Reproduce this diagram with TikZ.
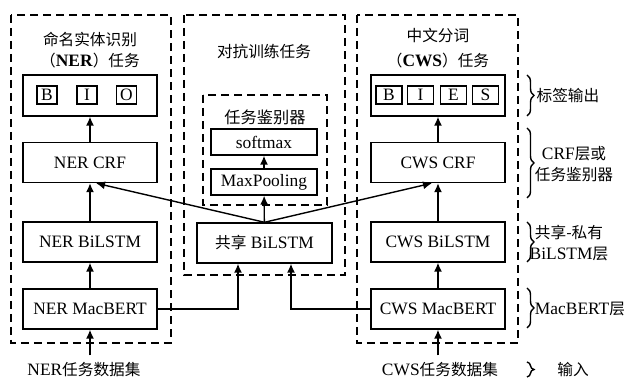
\documentclass[tikz,border=0pt]{standalone}
\usepackage{fontspec}
\setmainfont{Liberation Serif}
\newfontfamily\cjk[Scale=0.9]{Noto Sans CJK SC}
\usetikzlibrary{arrows.meta,decorations.pathreplacing}

\begin{document}
\begin{tikzpicture}[x=0.5pt,y=-0.5pt,font=\fontsize{8.7}{10.5}\selectfont,
    line width=0.7pt,>={Latex[length=4.5pt,width=4pt]},
    box/.style={draw,minimum width=67pt,minimum height=20pt,inner sep=0pt},
    tag/.style={draw,minimum height=9pt,inner sep=0pt},
    frame/.style={dash pattern=on 4pt off 2.5pt},
    brc/.style={decorate,decoration={brace,amplitude=3.5pt}},
    side/.style={align=center}]
\useasboundingbox (0,0) rectangle (634,378);

% dashed task frames
\draw[frame] (11,15) rectangle (171,343);
\draw[frame] (184,15) rectangle (345,275);
\draw[frame] (357,15) rectangle (518,343);
\draw[frame] (203,95) rectangle (327,205);

% NER task
\node (nert1) at (90,39) {{\cjk 命名实体识别}};
\node (nert2) at (90,61) {{\cjk （}\textbf{NER}{\cjk ）任务}};
\node[box,minimum height=20.5pt] (nerout) at (90,95.5) {};
\foreach \t/\x in {B/47,I/87,O/126.5}
    \node[tag,minimum width=10pt] (ner\t) at (\x,95) {\t};
\node[box] (nercrf) at (90,162.5) {NER CRF};
\node[box] (nerlstm) at (90,242) {NER BiLSTM};
\node[box] (nermac) at (90,309) {NER MacBERT};
\node (nerdata) at (84,370) {NER{\cjk 任务数据集}};

% adversarial training
\node (advt) at (264,52) {{\cjk 对抗训练任务}};
\node (disc) at (265,117) {{\cjk\fontsize{9}{10}\selectfont 任务鉴别器}};
\node[box,minimum width=53pt,minimum height=13pt] (softmax) at (264,142) {softmax};
\node[box,minimum width=53pt,minimum height=13pt] (maxpool) at (264,182) {MaxPooling};
\node[box,minimum width=67.5pt] (shared) at (264.5,243) {{\cjk 共享} BiLSTM};

% CWS task
\node (cwst1) at (438,36) {{\cjk 中文分词}};
\node (cwst2) at (438,61) {{\cjk （}\textbf{CWS}{\cjk ）任务}};
\node[box,minimum height=20.5pt] (cwsout) at (438,95.5) {};
\foreach \t/\x in {B/389,I/420.5,E/453.5,S/485.5}
    \node[tag,minimum width=13pt] (cws\t) at (\x,95) {\t};
\node[box] (cwscrf) at (438,162.5) {CWS CRF};
\node[box] (cwslstm) at (438,242) {CWS BiLSTM};
\node[box] (cwsmac) at (438,309) {CWS MacBERT};
\node (cwsdata) at (440,370) {CWS{\cjk 任务数据集}};

% arrows
\draw[->] (nercrf) -- (nerout);
\draw[->] (nerlstm) -- (nercrf);
\draw[->] (nermac) -- (nerlstm);
\draw[->] (nerdata.north -| nermac.south) -- (nermac.south);
\draw[->] (cwscrf) -- (cwsout);
\draw[->] (cwslstm) -- (cwscrf);
\draw[->] (cwsmac) -- (cwslstm);
\draw[->] (cwsdata.north -| cwsmac.south) -- (cwsmac.south);
\draw[->] (maxpool) -- (softmax);
\draw[->] (shared) -- (maxpool);
\draw[->] (shared.north) -- ([xshift=3pt]nercrf.south);
\draw[->] (shared.north) -- ([xshift=-3pt]cwscrf.south);
\draw[->] (nermac.east) -| ([xshift=-13.25pt]shared.south);
\draw[->] (cwsmac.west) -| ([xshift=13.25pt]shared.south);

% layer braces
\draw[brc] (527,75) -- (527,116);
\draw[brc] (527,128) -- (527,198);
\draw[brc] (527,222) -- (527,262);
\draw[brc] (527,288) -- (527,328);
\draw[brc] (527,362) -- (527,377);
\node (lablab) at (568,96) {{\cjk 标签输出}};
\node[side] (labcrf) at (574,164) {\rmfamily CRF{\cjk 层或}\\{\cjk 任务鉴别器}};
\node[side] (lablstm) at (569,243) {{\cjk 共享-私有}\\\rmfamily BiLSTM{\cjk 层}};
\node (labmac) at (580,309) {\rmfamily MacBERT{\cjk 层}};
\node (labin) at (573,370) {{\cjk 输入}};
\end{tikzpicture}
\end{document}
